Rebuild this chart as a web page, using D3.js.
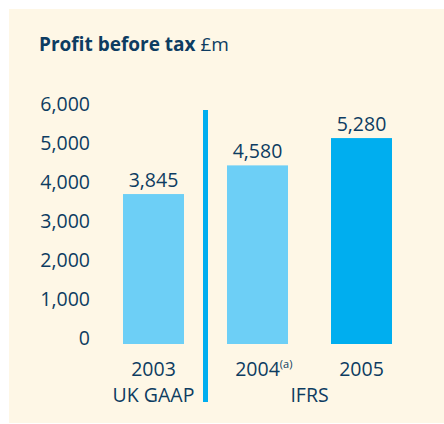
<!DOCTYPE html>
<html>
<head>
<meta charset="utf-8">
<script src="https://cdn.jsdelivr.net/npm/d3@7"></script>
<style>
  body { margin: 0; background: #ffffff; }
  svg { display: block; font-family: "Open Sans", sans-serif; }
</style>
</head>
<body>
<div id="chart"></div>
<script>
// Chart data
const years = ['2003', '2004', '2005'];
const profits = [3845, 4580, 5280];
const barColors = ['#6dcff6', '#6dcff6', '#00aeef'];
const yTicks = [0, 1000, 2000, 3000, 4000, 5000, 6000];
const yearNotes = ['', '(a)', ''];
const groups = [
    { label: 'UK GAAP', from: '2003', to: '2003' },
    { label: 'IFRS', from: '2004', to: '2005' }
];

const width = 444;
const height = 424;
const ink = '#0d3c61';

const svg = d3.select('#chart')
    .append('svg')
    .attr('width', width)
    .attr('height', height)

// Cream panel behind everything
svg.append('rect')
    .attr('x', 9)
    .attr('y', 9)
    .attr('width', width - 9)
    .attr('height', 414)
    .attr('fill', '#fef7e6')

// Title
const title = svg.append('text')
    .attr('x', 39)
    .attr('y', 51)
    .attr('fill', ink)
    .style('font-size', '19px')
title.append('tspan').attr('font-weight', 'bold').text('Profit before tax')
title.append('tspan').text(' £m')

// Scales
const xScale = d3.scaleBand()
    .domain(years)
    .range([123, 392])
    .paddingInner(43 / 104)
    .paddingOuter(0)

const yScale = d3.scaleLinear()
    .domain([0, 6000])
    .range([344, 110])

// Y axis: labels only, baseline sitting on the value
const yAxis = d3.axisLeft(yScale)
    .tickValues(yTicks)
    .tickFormat(d3.format(','))
    .tickSize(0)
    .tickPadding(0)

const yG = svg.append('g')
    .attr('transform', 'translate(90,0)')
    .call(yAxis)
yG.select('.domain').remove()
yG.selectAll('text')
    .attr('dy', 0)
    .attr('fill', ink)
    .style('font-family', '"Open Sans", sans-serif')
    .style('font-size', '19.5px')

// Bars
svg.selectAll('rect.bar')
    .data(profits)
    .enter()
    .append('rect')
    .attr('class', 'bar')
    .attr('x', (d, i) => xScale(years[i]))
    .attr('y', (d) => yScale(d))
    .attr('width', xScale.bandwidth())
    .attr('height', (d) => yScale(0) - yScale(d))
    .attr('fill', (d, i) => barColors[i])

// Value labels
svg.selectAll('text.value')
    .data(profits)
    .enter()
    .append('text')
    .attr('class', 'value')
    .attr('x', (d, i) => xScale(years[i]) + xScale.bandwidth() / 2)
    .attr('y', (d) => yScale(d) - 7)
    .attr('text-anchor', 'middle')
    .attr('fill', ink)
    .style('font-size', '19.5px')
    .text((d) => d3.format(',')(d))

// X axis: year labels
const xAxis = d3.axisBottom(xScale).tickSize(0).tickPadding(0)
const xG = svg.append('g')
    .attr('transform', 'translate(0,376)')
    .call(xAxis)
xG.select('.domain').remove()
xG.selectAll('text')
    .attr('dy', 0)
    .attr('fill', ink)
    .style('font-family', '"Open Sans", sans-serif')
    .style('font-size', '19.5px')
xG.selectAll('.tick text')
    .each(function (d, i) {
        if (yearNotes[i]) {
            d3.select(this).append('tspan')
                .attr('dy', -8)
                .style('font-size', '11px')
                .text(yearNotes[i])
        }
    })
// keep the year itself centred under its bar when a note is attached
xG.selectAll('.tick text')
    .attr('text-anchor', (d, i) => yearNotes[i] ? 'start' : 'middle')
    .attr('x', function (d, i) {
        if (!yearNotes[i]) return 0;
        const t = d3.select(this).node().firstChild.textContent;
        return -xScale.bandwidth() / 2 + (xScale.bandwidth() - 19.5 * 0.572 * t.length) / 2;
    })

// Group labels under the years
svg.selectAll('text.group')
    .data(groups)
    .enter()
    .append('text')
    .attr('class', 'group')
    .attr('x', (d) => (xScale(d.from) + xScale(d.to) + xScale.bandwidth()) / 2)
    .attr('y', 402)
    .attr('text-anchor', 'middle')
    .attr('fill', ink)
    .style('font-size', '19.5px')
    .text((d) => d.label)

// Divider between UK GAAP and IFRS
const divX = (xScale('2003') + xScale.bandwidth() + xScale('2004')) / 2
svg.append('line')
    .attr('x1', divX)
    .attr('x2', divX)
    .attr('y1', yScale(6000))
    .attr('y2', 402)
    .attr('stroke', '#00aeef')
    .attr('stroke-width', 5)
</script>
</body>
</html>
